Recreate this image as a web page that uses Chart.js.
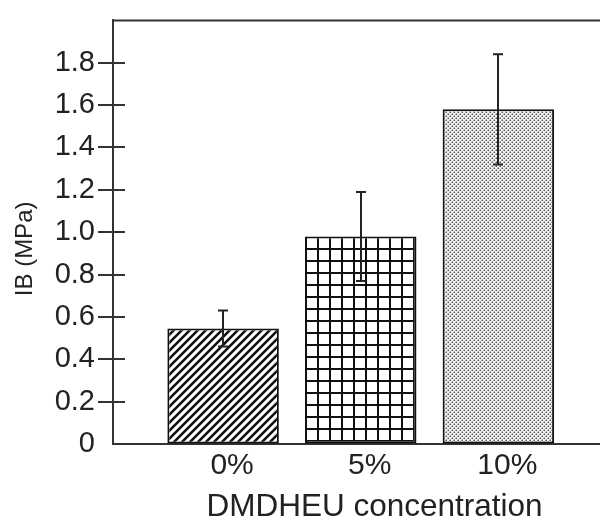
<!DOCTYPE html>
<html>
<head>
<meta charset="utf-8">
<script src="https://cdn.jsdelivr.net/npm/chart.js@4.4.1/dist/chart.umd.min.js"></script>
<style>
html,body{margin:0;padding:0;overflow:hidden;background:#fff;width:600px;height:521px}
#wrap{position:relative;width:636px;height:521px}
canvas{display:block}
</style>
</head>
<body>
<div id="wrap"><canvas id="c" width="636" height="521"></canvas></div>
<script>
// ---- data ----
const categories = ['0%', '5%', '10%'];
const categoryPositions = [1, 2, 3];
const ibMeans = [0.545, 0.98, 1.58];
const ibErrors = [0.085, 0.21, 0.26];
const yTickValues = [0, 0.2, 0.4, 0.6, 0.8, 1.0, 1.2, 1.4, 1.6, 1.8];
const yTickLabels = ['0', '0.2', '0.4', '0.6', '0.8', '1.0', '1.2', '1.4', '1.6', '1.8'];
const xAxisTitle = 'DMDHEU concentration';
const yAxisTitle = 'IB (MPa)';

const FONT = "'Liberation Sans', Arial, Helvetica, sans-serif";
const INK = '#222';
const canvas = document.getElementById('c');
const mainCtx = canvas.getContext('2d');

function makePattern(w, h, draw) {
  const c = document.createElement('canvas');
  c.width = w; c.height = h;
  const g = c.getContext('2d');
  g.fillStyle = '#fff';
  g.fillRect(0, 0, w, h);
  draw(g, w, h);
  return mainCtx.createPattern(c, 'repeat');
}
const hatch = makePattern(8, 8, (g) => {
  g.strokeStyle = '#111'; g.lineWidth = 2.6; g.lineCap = 'square';
  g.beginPath();
  g.moveTo(-2, 10); g.lineTo(10, -2);
  g.moveTo(-2, 2); g.lineTo(2, -2);
  g.moveTo(6, 10); g.lineTo(10, 6);
  g.stroke();
});
const grid = makePattern(12, 12, (g) => {
  g.fillStyle = '#111';
  g.fillRect(0, 0, 2, 12);
  g.fillRect(0, 0, 12, 2);
});
const dots = makePattern(4, 4, (g) => {
  g.fillStyle = '#f6f6f6'; g.fillRect(0, 0, 4, 4);
  g.fillStyle = '#555';
  g.fillRect(0.5, 0.5, 1.5, 1.5);
  g.fillRect(2.5, 2.5, 1.5, 1.5);
});
const patterns = [hatch, grid, dots];

const alignPatterns = {
  id: 'alignPatterns',
  beforeDatasetsDraw(chart) {
    const meta = chart.getDatasetMeta(0);
    meta.data.forEach((el, i) => {
      const p = patterns[i];
      if (p && p.setTransform) {
        p.setTransform(new DOMMatrix().translate(Math.round(el.x - el.width / 2), Math.round(el.y)));
      }
    });
  }
};

const frameTicksErrors = {
  id: 'frameTicksErrors',
  afterDatasetsDraw(chart) {
    const { ctx, chartArea: a, scales: { x, y } } = chart;
    ctx.save();
    ctx.strokeStyle = '#333';
    ctx.lineWidth = 2;
    ctx.beginPath();
    ctx.moveTo(a.left - 1, a.top);
    ctx.lineTo(a.right, a.top);
    ctx.stroke();
    // crossing tick marks
    ctx.beginPath();
    y.ticks.forEach((t) => {
      if (t.value <= 0 || t.value >= 2) return;
      const py = Math.round(y.getPixelForValue(t.value));
      ctx.moveTo(a.left - 15, py);
      ctx.lineTo(a.left + 12, py);
    });
    ctx.lineWidth = 2;
    ctx.stroke();
    // error bars
    ctx.strokeStyle = '#222';
    ctx.lineWidth = 2;
    ctx.beginPath();
    categoryPositions.forEach((pos, i) => {
      const px = Math.round(x.getPixelForValue(pos));
      const top = y.getPixelForValue(ibMeans[i] + ibErrors[i]);
      const bot = y.getPixelForValue(ibMeans[i] - ibErrors[i]);
      ctx.moveTo(px, top); ctx.lineTo(px, bot);
      ctx.moveTo(px - 5, top); ctx.lineTo(px + 5, top);
      ctx.moveTo(px - 5, bot); ctx.lineTo(px + 5, bot);
    });
    ctx.stroke();
    ctx.restore();
  }
};

Chart.defaults.font.family = FONT;
Chart.defaults.color = INK;

new Chart(mainCtx, {
  type: 'bar',
  data: {
    datasets: [{
      data: categoryPositions.map((p, i) => ({ x: p, y: ibMeans[i] })),
      backgroundColor: patterns,
      borderColor: '#111',
      borderWidth: 2,
      borderSkipped: false,
      barPercentage: 0.81,
      categoryPercentage: 1.0
    }]
  },
  options: {
    responsive: false,
    animation: false,
    layout: { padding: { top: 12, left: 0, right: 0, bottom: 0 } },
    plugins: { legend: { display: false }, tooltip: { enabled: false } },
    scales: {
      x: {
        type: 'linear',
        offset: false,
        min: 0.2,
        max: 4,
        afterBuildTicks: (s) => { s.ticks = categoryPositions.map((v) => ({ value: v })); },
        afterFit: (s) => { s.height = 77; },
        ticks: {
          callback: (v) => categories[categoryPositions.indexOf(v)],
          font: { size: 30 },
          color: INK,
          padding: 0,
          labelOffset: 9,
          maxRotation: 0,
          autoSkip: false
        },
        grid: { display: true, offset: false, color: 'rgba(0,0,0,0)', drawOnChartArea: false, drawTicks: true, tickLength: 4 },
        border: { display: true, color: '#333', width: 2 },
        title: { display: true, text: xAxisTitle, font: { size: 31.5, lineHeight: 0.9 }, color: INK, padding: { top: 0, bottom: 0 } }
      },
      y: {
        min: 0,
        max: 2,
        afterBuildTicks: (s) => { s.ticks = yTickValues.map((v) => ({ value: v })); },
        afterFit: (s) => { s.width = 113; },
        ticks: {
          callback: (v, i) => yTickLabels[i],
          font: { size: 29 },
          color: INK,
          padding: 3
        },
        grid: { display: true, color: 'rgba(0,0,0,0)', drawOnChartArea: false, drawTicks: true, tickLength: 15 },
        border: { display: true, color: '#333', width: 2 },
        title: { display: true, text: yAxisTitle + '     ', font: { size: 24, lineHeight: 1 }, color: INK, padding: { top: 13, bottom: 0 } }
      }
    }
  },
  plugins: [alignPatterns, frameTicksErrors]
});
</script>
</body>
</html>
